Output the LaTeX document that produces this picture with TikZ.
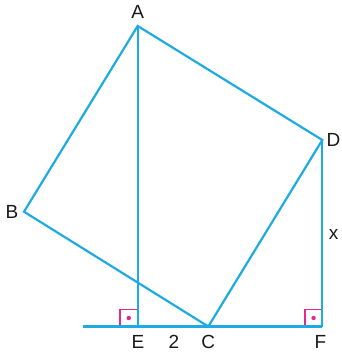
\documentclass[tikz,border=0pt]{standalone}
\usepackage{fontspec}
\setmainfont{Liberation Sans}
\definecolor{geoblue}{RGB}{30,170,226}
\definecolor{geopink}{RGB}{228,40,140}
\begin{document}
\begin{tikzpicture}[x=1pt,y=-1pt,
  seg/.style={draw=geoblue,line width=2.2pt,line join=miter},
  rmark/.style={draw=geopink,line width=1.6pt},
  lbl/.style={font=\fontsize{19}{21}\selectfont,inner sep=0pt,text=black!90}]
\useasboundingbox (0,0) rectangle (341,356);
\coordinate (A) at (137.7,26);
\coordinate (B) at (24,211.7);
\coordinate (C) at (208.3,326.5);
\coordinate (D) at (322.3,140);
\coordinate (E) at (137.7,326.5);
\coordinate (F) at (322.3,326.5);
\coordinate (L) at (83,326.5);
% right angle marks
\draw[rmark] (120,326.5) |- (137.7,309.5);
\draw[rmark] (305,326.5) |- (322.3,309.5);
\fill[geopink] (128.8,318) circle (2.2pt);
\fill[geopink] (313.6,318) circle (2.2pt);
% lines
\draw[seg] (A) -- (B) -- (C) -- (D) -- cycle;
\draw[seg] (A) -- (E);
\draw[seg] (D) -- (F);
\draw[seg] (L) -- (F);
% labels
\node[lbl] (lA) at (137.7,12) {A};
\node[lbl] (lB) at (12,212) {B};
\node[lbl] (lC) at (208.3,342) {C};
\node[lbl] (lD) at (333.5,140) {D};
\node[lbl] (lE) at (138,342) {E};
\node[lbl] (l2) at (174,342) {2};
\node[lbl] (lF) at (320.5,342) {F};
\node[lbl] (lx) at (333.5,234) {x};
\end{tikzpicture}
\end{document}
